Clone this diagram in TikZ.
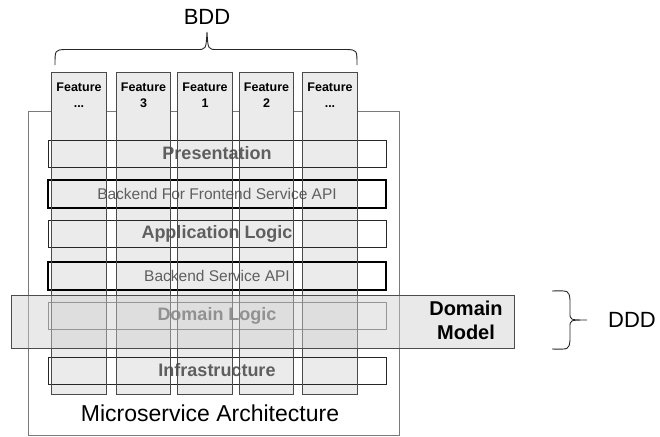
\documentclass[tikz,border=0pt]{standalone}
\usepackage{fontspec}
\setmainfont{Liberation Sans}
\definecolor{colfill}{HTML}{EBEBEB}
\definecolor{colline}{HTML}{4A4A4A}
\definecolor{layertext}{HTML}{5F5F5F}
\definecolor{bandfill}{HTML}{CFCFCF}
\definecolor{framecol}{HTML}{7A7A7A}
\begin{document}
\begin{tikzpicture}[x=1pt,y=-1pt,
  featcol/.style={fill=colfill, minimum width=54pt, minimum height=321pt, inner sep=0pt},
  featline/.style={draw=colline, line width=0.9pt},
  featlabel/.style={font=\fontsize{12.5}{16}\selectfont\bfseries, align=center, inner sep=0pt},
  layer/.style={minimum width=338pt, minimum height=27pt, inner sep=0pt, text=layertext},
  thinlayer/.style={layer, draw=black!85, line width=0.8pt},
  apilayer/.style={layer, draw=black, line width=2pt, minimum height=28pt, font=\fontsize{15.5}{18}\selectfont},
  boldtext/.style={font=\fontsize{18}{21}\selectfont\bfseries},
  bigtext/.style={font=\fontsize{22}{26}\selectfont, inner sep=0pt},
  bracepath/.style={draw=black!85, line width=0.9pt}
]
\useasboundingbox (0,0) rectangle (660,436);

% outer microservice frame
\node[draw=framecol, line width=0.8pt, minimum width=371pt, minimum height=324pt, inner sep=0pt] (frame) at (213.5,273) {};
\node[bigtext, font=\fontsize{23}{26}\selectfont] (msa) at (210,413) {Microservice Architecture};

% feature columns (fill only; outlines drawn later on top)
\node[featcol] (f1) at (79,233.5) {};
\node[featcol] (f2) at (143.5,233.5) {};
\node[featcol] (f3) at (205,233.5) {};
\node[featcol] (f4) at (266.5,233.5) {};
\node[featcol] (f5) at (330,233.5) {};

% layers
\node[thinlayer, boldtext] (pres) at (217,153.5) {Presentation};
\node[apilayer] (bff) at (217,194) {Backend For Frontend Service API};
\node[thinlayer, boldtext] (app) at (217,234) {Application Logic};
\node[apilayer] (bsa) at (217,275.5) {Backend Service API};
\node[thinlayer, boldtext, draw=black!60] (dom) at (217,315.5) {Domain Logic};
\node[thinlayer, boldtext] (infra) at (217,370.5) {Infrastructure};

% column outlines
\foreach \c in {f1,f2,f3,f4,f5}
  \draw[featline] (\c.north west) rectangle (\c.south east);

% feature labels
\node[featlabel] (l1) at (79,95) {Feature\\...};
\node[featlabel] (l2) at (143.5,95) {Feature\\3};
\node[featlabel] (l3) at (205,95) {Feature\\1};
\node[featlabel] (l4) at (266.5,95) {Feature\\2};
\node[featlabel] (l5) at (330,95) {Feature\\...};

% domain model band
\node[fill=bandfill, fill opacity=0.45, draw=black!70, draw opacity=1, line width=0.8pt,
      minimum width=503pt, minimum height=53pt, inner sep=0pt] (band) at (262.5,321.5) {};
\node[font=\fontsize{20}{24}\selectfont\bfseries, align=center, inner sep=0pt] (dm) at (466,320) {Domain\\Model};

% BDD brace
\coordinate (bddL) at (55,65);
\coordinate (bddTip) at (207,32);
\coordinate (bddR) at (357,65);
\draw[bracepath] (bddL) .. controls (55,50) .. (65,49.5) -- (197,49.5)
  .. controls (206,49.5) .. (bddTip) .. controls (208,49.5) .. (217,49.5)
  -- (347,49.5) .. controls (357,50) .. (bddR);
\node[bigtext] (bdd) at (207,17) {BDD};

% DDD brace
\coordinate (dddT) at (552,291);
\coordinate (dddTip) at (587,320);
\coordinate (dddB) at (552,349);
\draw[bracepath] (dddT) .. controls (569,290.5) .. (570,300) -- (570,313)
  .. controls (570,320) .. (dddTip) .. controls (570,320) .. (570,327)
  -- (570,340) .. controls (569,349.5) .. (dddB);
\node[bigtext] (ddd) at (632,320) {DDD};
\end{tikzpicture}
\end{document}
